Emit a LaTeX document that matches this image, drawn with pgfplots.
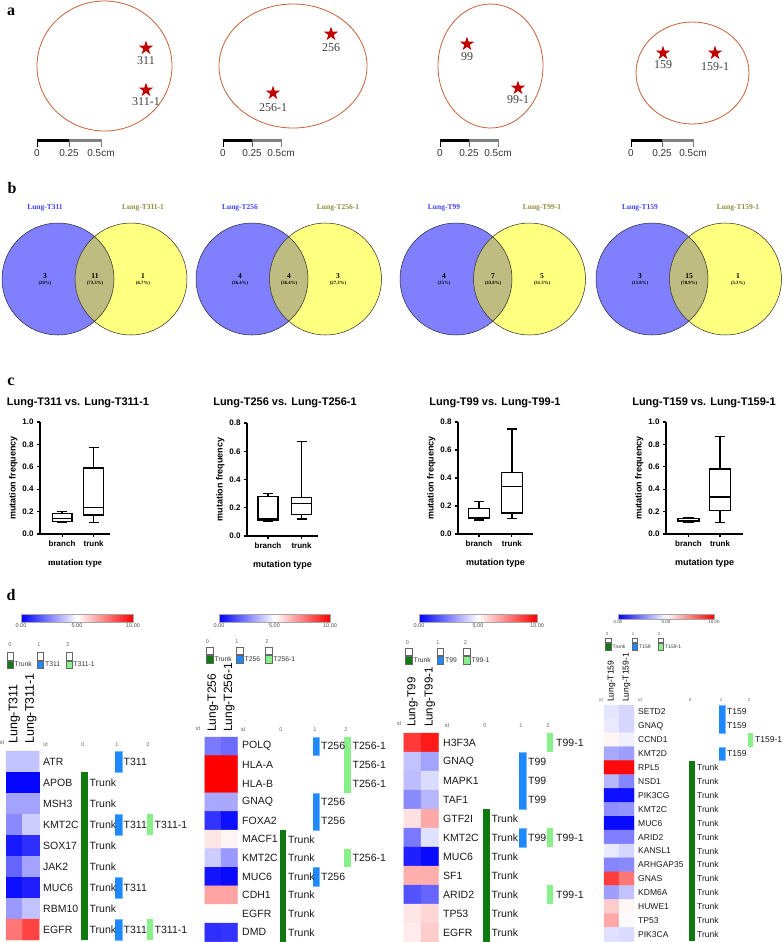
\documentclass[border=0pt]{standalone}
\usepackage{fontspec}
\setmainfont{Liberation Serif}
\setsansfont{Liberation Sans}
\usepackage{pgfplots}
\pgfplotsset{compat=1.18}
\usepgfplotslibrary{statistics}
\newcommand\fs[1]{\fontsize{#1}{#1}\selectfont}
\definecolor{ellc}{RGB}{196,96,56}
\definecolor{starc}{RGB}{192,0,0}
\definecolor{vblue}{RGB}{128,128,255}
\definecolor{vyel}{RGB}{255,255,128}
\definecolor{volive}{RGB}{190,188,128}
\definecolor{tblue}{RGB}{64,64,255}
\definecolor{tolive}{RGB}{140,140,60}
\definecolor{trunkg}{RGB}{16,122,16}
\definecolor{anblue}{RGB}{30,136,255}
\definecolor{anlg}{RGB}{136,240,136}
\pgfdeclareplotmark{fstar}{%
 \pgfpathmoveto{\pgfpointpolar{90}{\pgfplotmarksize}}%
 \pgfpathlineto{\pgfpointpolar{126}{0.382\pgfplotmarksize}}%
 \pgfpathlineto{\pgfpointpolar{162}{\pgfplotmarksize}}%
 \pgfpathlineto{\pgfpointpolar{198}{0.382\pgfplotmarksize}}%
 \pgfpathlineto{\pgfpointpolar{234}{\pgfplotmarksize}}%
 \pgfpathlineto{\pgfpointpolar{270}{0.382\pgfplotmarksize}}%
 \pgfpathlineto{\pgfpointpolar{306}{\pgfplotmarksize}}%
 \pgfpathlineto{\pgfpointpolar{342}{0.382\pgfplotmarksize}}%
 \pgfpathlineto{\pgfpointpolar{18}{\pgfplotmarksize}}%
 \pgfpathlineto{\pgfpointpolar{54}{0.382\pgfplotmarksize}}%
 \pgfpathclose\pgfusepathqfill}
\tikzset{
 tn/.style={font=\sffamily\fs{5.5}, text=black!60, inner sep=0pt},
 tn4/.style={font=\sffamily\fs{4.5}, text=black!60, inner sep=0pt},
 lg/.style={font=\sffamily\fs{6.8}, text=black!80, inner sep=0pt, anchor=west},
 lg4/.style={font=\sffamily\fs{5}, text=black!80, inner sep=0pt, anchor=west},
 g1/.style={font=\sffamily\fs{10.5}, text=black!90, inner sep=0pt, anchor=west},
 g4/.style={font=\sffamily\fs{8.5}, text=black!90, inner sep=0pt, anchor=west},
}
\newcommand\lb[5]{\draw[gray!80!black, line width=0.35pt, fill=#5] (axis cs:#1,#2) rectangle (axis cs:#3,#4);}
\newcommand\scalebar[3]{%
 \addplot[black, line width=2.5pt] coordinates {(#1,140.5) (#2,140.5)};
 \addplot[gray, line width=2.5pt] coordinates {(#2,140.5) (#3,140.5)};
 \addplot[black, line width=0.9pt] coordinates {(#1,139) (#1,147)};
 \addplot[black!60, line width=0.9pt] coordinates {(#2,139) (#2,147)};
 \addplot[gray, line width=0.9pt] coordinates {(#3,139) (#3,147)};
 \node[font=\sffamily\fs{10}, text=black!80] at (axis cs:#1,153) {0};
 \node[font=\sffamily\fs{10}, text=black!80] at (axis cs:#2,153) {0.25};
 \node[font=\sffamily\fs{10}, text=black!80] at (axis cs:#3,153) {0.5cm};}
\newcommand\venn[2]{%
 \fill[vblue] (axis cs:#1,279) circle [radius=56pt];
 \fill[vyel] (axis cs:#2,279) circle [radius=56pt];
 \begin{scope}\clip (axis cs:#1,279) circle [radius=56pt];
 \fill[volive] (axis cs:#2,279) circle [radius=56pt];\end{scope}
 \draw[line width=0.5pt, black!85] (axis cs:#1,279) circle [radius=56pt];
 \draw[line width=0.5pt, black!85] (axis cs:#2,279) circle [radius=56pt];}
\newcommand\vtext[3]{\node[font=\bfseries\fs{7.5}] at (axis cs:#1,276.5) {#2};
 \node[font=\bfseries\fs{4.8}] at (axis cs:#1,283) {#3};}
\newcommand\vtitle[4]{\node[font=\bfseries\fs{7.5}, text=tblue] at (axis cs:#1,208) {#2};
 \node[font=\bfseries\fs{7.5}, text=tolive] at (axis cs:#3,208) {#4};}
\pgfplotsset{
 canvas/.style={at={(0pt,0pt)}, anchor=north west, scale only axis, width=784pt, height=942pt,
  xmin=0, xmax=784, ymin=0, ymax=942, y dir=reverse, hide axis, clip=false},
 cbar/.style={anchor=north west, scale only axis, height=8pt, xmin=0, xmax=10, ymin=0, ymax=1,
  xtick={0,5,10}, xticklabels={0.00,5.00,10.00}, ytick=\empty, major tick length=0pt, axis on top,
  axis line style={gray!70, line width=0.4pt}, xticklabel style={font=\sffamily\fs{5.5}, text=black!70, inner sep=1.5pt}},
 bx/.style={anchor=south west, scale only axis, axis x line*=bottom, axis y line*=left,
  axis line style={-, line width=1.2pt}, tick style={black, line width=1.1pt}, tick align=outside,
  major tick length=3pt, xtick={1,2}, xticklabels={branch,trunk},
  ticklabel style={font=\sffamily\bfseries\fs{8}},
  y tick label style={/pgf/number format/.cd, fixed, fixed zerofill, precision=1, assume math mode=true},
  ylabel={mutation frequency}, xlabel={mutation type},
  label style={font=\sffamily\bfseries\fs{9}}, xlabel style={yshift=-6pt}, ylabel style={yshift=-2pt},
  boxplot/draw direction=y, ymin=0, clip=false},
 hm/.style={anchor=north west, scale only axis, y dir=reverse, hide axis, clip=false,
  colormap={bwr}{rgb255=(0,0,255) rgb255=(255,255,255) rgb255=(255,0,0)},
  point meta min=0, point meta max=10, ymin=-0.5},
 bp/.style={black, line width=1.2pt, solid},
}
\begin{document}
\begin{tikzpicture}
\begin{axis}[canvas]
% panel letters
\node[font=\bfseries\fs{16}] at (axis cs:11,12) {a};
\node[font=\bfseries\fs{16}] at (axis cs:12,188) {b};
\node[font=\bfseries\fs{16}] at (axis cs:11,382) {c};
\node[font=\bfseries\fs{16}] at (axis cs:11,595) {d};
% panel a
\draw[ellc, line width=0.8pt] (axis cs:104.5,66) ellipse [x radius=67.5pt, y radius=65pt];
\draw[ellc, line width=0.8pt] (axis cs:293,66) ellipse [x radius=74pt, y radius=62pt];
\draw[ellc, line width=0.8pt] (axis cs:490.5,66) ellipse [x radius=52.5pt, y radius=62pt];
\draw[ellc, line width=0.8pt] (axis cs:692.5,73) ellipse [x radius=56.5pt, y radius=51pt];
\addplot[only marks, mark=fstar, mark size=7.5pt, color=starc] coordinates {
(146,48) (146,90) (331,34) (273,93) (467,44) (518,88) (663,53) (715,53)};
\node[font=\fs{12}, text=black!75] at (axis cs:146,61) {311};
\node[font=\fs{12}, text=black!75] at (axis cs:146,101.5) {311-1};
\node[font=\fs{12}, text=black!75] at (axis cs:331,48) {256};
\node[font=\fs{12}, text=black!75] at (axis cs:273,108) {256-1};
\node[font=\fs{12}, text=black!75] at (axis cs:467,56.5) {99};
\node[font=\fs{12}, text=black!75] at (axis cs:518,100) {99-1};
\node[font=\fs{12}, text=black!75] at (axis cs:663,65) {159};
\node[font=\fs{12}, text=black!75] at (axis cs:715,67) {159-1};
\scalebar{37}{69}{101}
\scalebar{223}{252}{281}
\scalebar{440}{469}{498}
\scalebar{631}{662}{693}
% panel b
\venn{58}{131}
\venn{252}{325.5}
\venn{456}{529.5}
\venn{652}{725.5}
\vtitle{45}{Lung-T311}{143}{Lung-T311-1}
\vtitle{240}{Lung-T256}{338}{Lung-T256-1}
\vtitle{444}{Lung-T99}{542}{Lung-T99-1}
\vtitle{640}{Lung-T159}{738}{Lung-T159-1}
\vtext{45}{3}{(20\%)}\vtext{95}{11}{(73.3\%)}\vtext{143}{1}{(6.7\%)}
\vtext{240}{4}{(36.4\%)}\vtext{289}{4}{(36.4\%)}\vtext{338}{3}{(27.3\%)}
\vtext{444}{4}{(25\%)}\vtext{493}{7}{(43.8\%)}\vtext{542}{5}{(31.3\%)}
\vtext{640}{3}{(15.8\%)}\vtext{689}{15}{(78.9\%)}\vtext{738}{1}{(5.3\%)}
% panel c titles
\node[font=\sffamily\bfseries\fs{11}] at (axis cs:78,402.5) {Lung-T311 vs. Lung-T311-1};
\node[font=\sffamily\bfseries\fs{11}] at (axis cs:285,402.5) {Lung-T256 vs. Lung-T256-1};
\node[font=\sffamily\bfseries\fs{11}] at (axis cs:495,402.5) {Lung-T99 vs. Lung-T99-1};
\node[font=\sffamily\bfseries\fs{11}] at (axis cs:704,402.5) {Lung-T159 vs. Lung-T159-1};
% panel d legends
\node[tn] at (axis cs:10,645) {0}; \lb{7.3}{652}{13.3}{660}{white}\lb{7.3}{661}{13.3}{668}{trunkg}\node[lg] at (axis cs:14.5,664.5) {Trunk};
\node[tn] at (axis cs:39,645) {1}; \lb{37}{652}{43}{660}{white}\lb{37}{661}{43}{668}{anblue}\node[lg] at (axis cs:45,664.5) {T311};
\node[tn] at (axis cs:68,645) {2}; \lb{66}{652}{72}{660}{white}\lb{66}{661}{72}{668}{anlg}\node[lg] at (axis cs:73.5,664.5) {T311-1};
\node[tn] at (axis cs:207.5,642) {0}; \lb{206}{647}{213}{654}{white}\lb{206}{655.5}{213}{663}{trunkg}\node[lg] at (axis cs:214.5,659) {Trunk};
\node[tn] at (axis cs:237,642) {1}; \lb{236}{647}{243}{654}{white}\lb{236}{655.5}{243}{663}{anblue}\node[lg] at (axis cs:244.5,659) {T256};
\node[tn] at (axis cs:267,642) {2}; \lb{265}{647}{272}{654}{white}\lb{265}{655.5}{272}{663}{anlg}\node[lg] at (axis cs:273.5,659) {T256-1};
\node[tn] at (axis cs:407.5,642.5) {0}; \lb{405}{648}{412}{655}{white}\lb{405}{656.5}{412}{664}{trunkg}\node[lg] at (axis cs:413.5,660) {Trunk};
\node[tn] at (axis cs:438,642.5) {1}; \lb{437}{648}{443}{655}{white}\lb{437}{656.5}{443}{664}{anblue}\node[lg] at (axis cs:445,660) {T99};
\node[tn] at (axis cs:465.5,642.5) {2}; \lb{463}{648}{470}{655}{white}\lb{463}{656.5}{470}{664}{anlg}\node[lg] at (axis cs:471.5,660) {T99-1};
\node[tn4] at (axis cs:607,634) {0}; \lb{605}{638}{611}{642.5}{white}\lb{605}{643.5}{611}{650}{trunkg}\node[lg4] at (axis cs:612.5,647) {Trunk};
\node[tn4] at (axis cs:633,634) {1}; \lb{632}{638}{637.5}{642.5}{white}\lb{632}{643.5}{637.5}{650}{anblue}\node[lg4] at (axis cs:639,647) {T159};
\node[tn4] at (axis cs:659,634) {2}; \lb{658}{638}{663.5}{642.5}{white}\lb{658}{643.5}{663.5}{650}{anlg}\node[lg4] at (axis cs:665,647) {T159-1};
% column labels
\node[rotate=90, anchor=west, inner sep=0pt, font=\sffamily\fs{12.5}] at (axis cs:14.3,744) {Lung-T311};
\node[rotate=90, anchor=west, inner sep=0pt, font=\sffamily\fs{12.5}] at (axis cs:30.9,744) {Lung-T311-1};
\node[rotate=90, anchor=west, inner sep=0pt, font=\sffamily\fs{12}] at (axis cs:213,732) {Lung-T256};
\node[rotate=90, anchor=west, inner sep=0pt, font=\sffamily\fs{12}] at (axis cs:229.2,732) {Lung-T256-1};
\node[rotate=90, anchor=west, inner sep=0pt, font=\sffamily\fs{11.5}] at (axis cs:412.5,727) {Lung-T99};
\node[rotate=90, anchor=west, inner sep=0pt, font=\sffamily\fs{11.5}] at (axis cs:429.7,727) {Lung-T99-1};
\node[rotate=90, anchor=west, inner sep=0pt, font=\sffamily\fs{8.5}] at (axis cs:611.5,702) {Lung-T159};
\node[rotate=90, anchor=west, inner sep=0pt, font=\sffamily\fs{8.5}] at (axis cs:626.5,702) {Lung-T159-1};
% id headers
\node[tn] at (axis cs:2,743) {id}; \node[tn] at (axis cs:45.5,745) {id};
\node[tn] at (axis cs:83,745) {0}; \node[tn] at (axis cs:117,745) {1}; \node[tn] at (axis cs:148,745) {2};
\node[tn] at (axis cs:198,729) {id}; \node[tn] at (axis cs:243,730) {id};
\node[tn] at (axis cs:281,730) {0}; \node[tn] at (axis cs:315,730) {1}; \node[tn] at (axis cs:346,730) {2};
\node[tn] at (axis cs:399,724) {id}; \node[tn] at (axis cs:447,726) {id};
\node[tn] at (axis cs:485,726) {0}; \node[tn] at (axis cs:521,726) {1}; \node[tn] at (axis cs:548,726) {2};
\node[tn4] at (axis cs:601,700) {id}; \node[tn4] at (axis cs:640,700) {id};
\node[tn4] at (axis cs:690,700) {0}; \node[tn4] at (axis cs:721,700) {1}; \node[tn4] at (axis cs:749,700) {2};
\end{axis}

% colour bars
\begin{axis}[cbar, at={(21pt,-614pt)}, width=112pt]
\shade[left color=blue, right color=red, middle color=white] (rel axis cs:0,0) rectangle (rel axis cs:1,1);
\end{axis}
\begin{axis}[cbar, at={(219pt,-614pt)}, width=111pt]
\shade[left color=blue, right color=red, middle color=white] (rel axis cs:0,0) rectangle (rel axis cs:1,1);
\end{axis}
\begin{axis}[cbar, at={(419pt,-614pt)}, width=118pt]
\shade[left color=blue, right color=red, middle color=white] (rel axis cs:0,0) rectangle (rel axis cs:1,1);
\end{axis}
\begin{axis}[cbar, at={(618pt,-614pt)}, width=96pt, height=5pt, xticklabel style={font=\sffamily\fs{4.5}}]
\shade[left color=blue, right color=red, middle color=white] (rel axis cs:0,0) rectangle (rel axis cs:1,1);
\end{axis}

% box plots
\begin{axis}[bx, at={(40pt,-534pt)}, width=70pt, height=112pt, xmin=0.30, xmax=2.52, ymax=1,
 ytick={0,0.2,0.4,0.6,0.8,1.0}, xlabel style={font=\rmfamily\bfseries\fs{9}}]
\addplot[bp, boxplot prepared={draw position=1, lower whisker=0.10, lower quartile=0.11, median=0.14, upper quartile=0.18, upper whisker=0.20, box extend=0.63, whisker extend=0.32}] coordinates {};
\addplot[bp, boxplot prepared={draw position=2, lower whisker=0.10, lower quartile=0.17, median=0.24, upper quartile=0.59, upper whisker=0.77, box extend=0.63, whisker extend=0.32}] coordinates {};
\end{axis}
\begin{axis}[bx, at={(247pt,-536pt)}, width=71pt, height=113pt, xmin=0.373, xmax=2.49, ymax=0.8,
 ytick={0,0.2,0.4,0.6,0.8}]
\addplot[bp, boxplot prepared={draw position=1, lower whisker=0.10, lower quartile=0.11, median=0.12, upper quartile=0.28, upper whisker=0.30, box extend=0.6, whisker extend=0.3}] coordinates {};
\addplot[bp, boxplot prepared={draw position=2, lower whisker=0.12, lower quartile=0.15, median=0.23, upper quartile=0.27, upper whisker=0.67, box extend=0.6, whisker extend=0.3}] coordinates {};
\end{axis}
\begin{axis}[bx, at={(458pt,-534pt)}, width=75pt, height=112pt, xmin=0.364, xmax=2.64, ymax=0.8,
 ytick={0,0.2,0.4,0.6,0.8}]
\addplot[bp, boxplot prepared={draw position=1, lower whisker=0.10, lower quartile=0.11, median=0.12, upper quartile=0.18, upper whisker=0.23, box extend=0.62, whisker extend=0.31}] coordinates {};
\addplot[bp, boxplot prepared={draw position=2, lower whisker=0.11, lower quartile=0.15, median=0.34, upper quartile=0.44, upper whisker=0.75, box extend=0.62, whisker extend=0.31}] coordinates {};
\end{axis}
\begin{axis}[bx, at={(666pt,-534pt)}, width=77pt, height=112pt, xmin=0.286, xmax=2.73, ymax=1,
 ytick={0,0.2,0.4,0.6,0.8,1.0}]
\addplot[bp, boxplot prepared={draw position=1, lower whisker=0.10, lower quartile=0.11, median=0.12, upper quartile=0.14, upper whisker=0.15, box extend=0.67, whisker extend=0.33}] coordinates {};
\addplot[bp, boxplot prepared={draw position=2, lower whisker=0.10, lower quartile=0.21, median=0.33, upper quartile=0.58, upper whisker=0.87, box extend=0.67, whisker extend=0.33}] coordinates {};
\end{axis}

% heatmap 1
\begin{axis}[hm, at={(0pt,-751pt)}, width=200pt, height=189pt, xmin=0, xmax=200, ymax=8.5]
\addplot[matrix plot*, mesh/cols=2, point meta=explicit] table[meta=c] {
x y c
14.3 0 3.8
30.9 0 3.8
14.3 1 0.1
30.9 1 0.1
14.3 2 3.2
30.9 2 3.2
14.3 3 2.7
30.9 3 4.0
14.3 4 0.5
30.9 4 0.9
14.3 5 2.0
30.9 5 3.2
14.3 6 0.3
30.9 6 0.6
14.3 7 3.0
30.9 7 3.8
14.3 8 7.7
30.9 8 8.7
};
\addplot[fill=trunkg, draw=none] coordinates {(81,0.5) (88,0.5) (88,8.5) (81,8.5)};
\addplot[fill=anblue, draw=anblue!60!white, line width=0.4pt] coordinates {(115,-0.5) (122,-0.5) (122,0.5) (115,0.5)};
\addplot[fill=anblue, draw=anblue!60!white, line width=0.4pt] coordinates {(115,2.5) (122,2.5) (122,3.5) (115,3.5)};
\addplot[fill=anblue, draw=anblue!60!white, line width=0.4pt] coordinates {(115,5.5) (122,5.5) (122,6.5) (115,6.5)};
\addplot[fill=anblue, draw=anblue!60!white, line width=0.4pt] coordinates {(115,7.5) (122,7.5) (122,8.5) (115,8.5)};
\addplot[fill=anlg, draw=none] coordinates {(147,2.5) (153,2.5) (153,3.5) (147,3.5)};
\addplot[fill=anlg, draw=none] coordinates {(147,7.5) (153,7.5) (153,8.5) (147,8.5)};
\foreach \g [count=\i from 0] in {ATR,APOB,MSH3,KMT2C,SOX17,JAK2,MUC6,RBM10,EGFR}{\edef\tmp{\noexpand\node[g1] at (axis cs:43,\i) {\g};}\tmp}
\pgfplotsinvokeforeach{1,...,8}{\node[g1] at (axis cs:89.5,#1) {Trunk};}
\pgfplotsinvokeforeach{0,3,6,8}{\node[g1] at (axis cs:123.5,#1) {T311};}
\pgfplotsinvokeforeach{3,8}{\node[g1] at (axis cs:154.5,#1) {T311-1};}
\end{axis}

% heatmap 2
\begin{axis}[hm, at={(195pt,-737pt)}, width=200pt, height=204.6pt, xmin=195, xmax=395, ymax=10.5]
\addplot[matrix plot*, mesh/cols=2, point meta=explicit] table[meta=c] {
x y c
213 0 2.4
229.2 0 2.1
213 1 10
229.2 1 10
213 2 10
229.2 2 10
213 3 3.3
229.2 3 3.3
213 4 1.0
229.2 4 0.3
213 5 5.5
229.2 5 5.2
213 6 4.0
229.2 6 3.0
213 7 0.4
229.2 7 0.2
213 8 6.8
229.2 8 6.8
213 9 5.0
229.2 9 5.0
213 10 0.9
229.2 10 1.0
};
\addplot[fill=trunkg, draw=none] coordinates {(280,4.5) (286,4.5) (286,10.5) (280,10.5)};
\addplot[fill=anblue, draw=anblue!60!white, line width=0.4pt] coordinates {(313,-0.5) (319,-0.5) (319,0.5) (313,0.5)};
\addplot[fill=anblue, draw=anblue!60!white, line width=0.4pt] coordinates {(313,2.5) (319,2.5) (319,4.5) (313,4.5)};
\addplot[fill=anblue, draw=anblue!60!white, line width=0.4pt] coordinates {(313,6.5) (319,6.5) (319,7.5) (313,7.5)};
\addplot[fill=anlg, draw=none] coordinates {(344,-0.5) (351,-0.5) (351,2.5) (344,2.5)};
\addplot[fill=anlg, draw=none] coordinates {(344,5.5) (351,5.5) (351,6.5) (344,6.5)};
\foreach \g [count=\i from 0] in {POLQ,HLA-A,HLA-B,GNAQ,FOXA2,MACF1,KMT2C,MUC6,CDH1,EGFR,DMD}{\edef\tmp{\noexpand\node[g1] at (axis cs:242,\i) {\g};}\tmp}
\pgfplotsinvokeforeach{5,...,10}{\node[g1] at (axis cs:288,#1) {Trunk};}
\pgfplotsinvokeforeach{0,3,4,7}{\node[g1] at (axis cs:321,#1) {T256};}
\pgfplotsinvokeforeach{0,1,2,6}{\node[g1] at (axis cs:352.5,#1) {T256-1};}
\end{axis}

% heatmap 3
\begin{axis}[hm, at={(395pt,-733pt)}, width=200pt, height=209pt, xmin=395, xmax=595, ymax=10.5]
\addplot[matrix plot*, mesh/cols=2, point meta=explicit] table[meta=c] {
x y c
412.5 0 8.9
429.7 0 9.5
412.5 1 3.8
429.7 1 3.2
412.5 2 3.7
429.7 2 4.3
412.5 3 2.7
429.7 3 3.6
412.5 4 5.6
429.7 4 6.7
412.5 5 2.4
429.7 5 4.4
412.5 6 0.6
429.7 6 0.2
412.5 7 6.6
429.7 7 6.6
412.5 8 1.6
429.7 8 2.0
412.5 9 5.5
429.7 9 5.8
412.5 10 5.4
429.7 10 6.0
};
\addplot[fill=trunkg, draw=none] coordinates {(483,3.5) (490,3.5) (490,10.5) (483,10.5)};
\addplot[fill=anblue, draw=anblue!60!white, line width=0.4pt] coordinates {(519,0.5) (526,0.5) (526,3.5) (519,3.5)};
\addplot[fill=anblue, draw=anblue!60!white, line width=0.4pt] coordinates {(519,4.5) (526,4.5) (526,5.5) (519,5.5)};
\addplot[fill=anlg, draw=none] coordinates {(547,-0.5) (553,-0.5) (553,0.5) (547,0.5)};
\addplot[fill=anlg, draw=none] coordinates {(547,4.5) (553,4.5) (553,5.5) (547,5.5)};
\addplot[fill=anlg, draw=none] coordinates {(547,7.5) (553,7.5) (553,8.5) (547,8.5)};
\foreach \g [count=\i from 0] in {H3F3A,GNAQ,MAPK1,TAF1,GTF2I,KMT2C,MUC6,SF1,ARID2,TP53,EGFR}{\edef\tmp{\noexpand\node[g1] at (axis cs:443,\i) {\g};}\tmp}
\pgfplotsinvokeforeach{4,...,10}{\node[g1] at (axis cs:491.5,#1) {Trunk};}
\pgfplotsinvokeforeach{1,2,3,5}{\node[g1] at (axis cs:528,#1) {T99};}
\pgfplotsinvokeforeach{0,5,8}{\node[g1] at (axis cs:556,#1) {T99-1};}
\end{axis}

% heatmap 4
\begin{axis}[hm, at={(595pt,-705pt)}, width=189pt, height=236.3pt, xmin=595, xmax=784, ymax=16.5]
\addplot[matrix plot*, mesh/cols=2, point meta=explicit] table[meta=c] {
x y c
611.5 0 4.5
626.5 0 4.2
611.5 1 4.6
626.5 1 4.2
611.5 2 5.2
626.5 2 4.7
611.5 3 3.3
626.5 3 3.1
611.5 4 9.8
626.5 4 9.8
611.5 5 3.6
626.5 5 2.6
611.5 6 0.3
626.5 6 0.3
611.5 7 2.8
626.5 7 2.9
611.5 8 0.2
626.5 8 0.2
611.5 9 2.5
626.5 9 2.5
611.5 10 4.6
626.5 10 4.2
611.5 11 2.6
626.5 11 2.7
611.5 12 8.8
626.5 12 7.7
611.5 13 3.1
626.5 13 3.8
611.5 14 6.0
626.5 14 5.2
611.5 15 6.7
626.5 15 4.9
611.5 16 4.4
626.5 16 4.3
};
\addplot[fill=trunkg, draw=none] coordinates {(689,3.5) (695,3.5) (695,16.5) (689,16.5)};
\addplot[fill=anblue, draw=anblue!60!white, line width=0.4pt] coordinates {(719,-0.5) (725,-0.5) (725,1.5) (719,1.5)};
\addplot[fill=anblue, draw=anblue!60!white, line width=0.4pt] coordinates {(719,2.5) (725,2.5) (725,3.5) (719,3.5)};
\addplot[fill=anlg, draw=none] coordinates {(748,1.5) (753,1.5) (753,2.5) (748,2.5)};
\foreach \g [count=\i from 0] in {SETD2,GNAQ,CCND1,KMT2D,RPL5,NSD1,PIK3CG,KMT2C,MUC6,ARID2,KANSL1,ARHGAP35,GNAS,KDM6A,HUWE1,TP53,PIK3CA}{\edef\tmp{\noexpand\node[g4] at (axis cs:638,\i) {\g};}\tmp}
\pgfplotsinvokeforeach{4,...,16}{\node[g4] at (axis cs:697,#1) {Trunk};}
\pgfplotsinvokeforeach{0,1,3}{\node[g4] at (axis cs:727,#1) {T159};}
\pgfplotsinvokeforeach{2}{\node[g4] at (axis cs:755,#1) {T159-1};}
\end{axis}

\pgfresetboundingbox
\path[use as bounding box] (0pt,0pt) rectangle (784pt,-942pt);
\end{tikzpicture}
\end{document}
